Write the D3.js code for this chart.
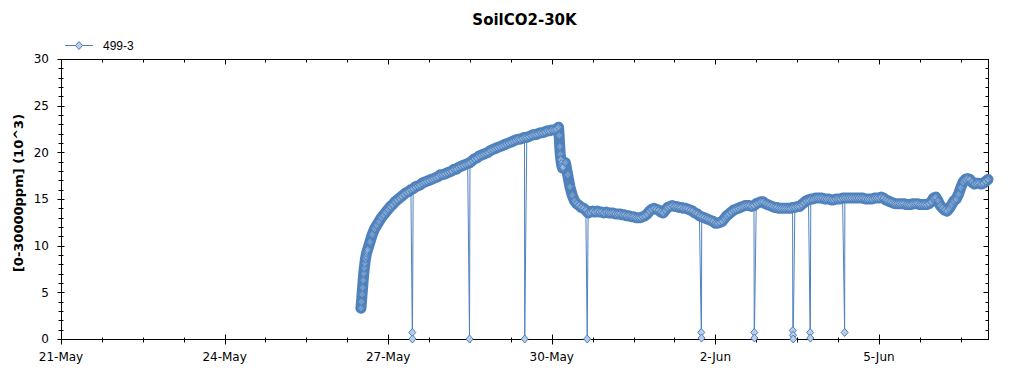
<!DOCTYPE html>
<html>
<head>
<meta charset="utf-8">
<script src="https://d3js.org/d3.v7.min.js"></script>
<style>
  body { margin: 0; background: #fff; }
  text { font-family: "DejaVu Sans", sans-serif; fill: #000; }
</style>
</head>
<body>
<script>
// SoilCO2-30K, sensor 499-3, values in 10^3 ppm
var chartTitle = "SoilCO2-30K";
var yLabel = "[0-30000ppm] (10^3)";
var seriesName = "499-3";

// first hours after start, 15 min apart
var riseStart = "2015-05-26T12:00";
var riseValues = [3.3, 4.0, 4.8, 5.5, 6.3, 7.0, 7.6, 8.1, 8.6, 8.9, 9.2, 9.4];

// hourly readings from 26-May 15:00
var hourlyStart = "2015-05-26T15:00";
var hourlyValues = [
  9.6, 10.4, 11.2, 11.8, 12.2, 12.6, 13.0, 13.3, 13.6,
  // 27-May
  13.9, 14.2, 14.4, 14.7, 14.9, 15.1, 15.3, 15.5, 15.7, 15.8, 16.0, 16.1,
  16.3, 16.4, 16.5, 16.7, 16.8, 16.9, 17.0, 17.1, 17.2, 17.3, 17.4, 17.6,
  // 28-May
  17.6, 17.7, 17.8, 17.9, 18.0, 18.2, 18.2, 18.4, 18.5, 18.6, 18.7, 18.8,
  18.9, 19.1, 19.3, 19.4, 19.6, 19.7, 19.8, 19.9, 20.0, 20.2, 20.3, 20.4,
  // 29-May
  20.5, 20.6, 20.7, 20.8, 20.9, 21.0, 21.1, 21.2, 21.3, 21.4, 21.4, 21.5,
  21.6, 21.6, 21.7, 21.8, 21.9, 21.9, 22.0, 22.1, 22.1, 22.2, 22.3, 22.3,
  // 30-May
  22.4, 22.4, 22.5, 22.7, 19.2, 18.4, 18.9, 17.6, 16.3, 15.4, 14.8, 14.5,
  14.3, 14.1, 14.0, 13.8, 13.5, 13.6, 13.7, 13.6, 13.7, 13.6, 13.6, 13.5,
  // 31-May
  13.6, 13.5, 13.5, 13.5, 13.4, 13.4, 13.4, 13.3, 13.3, 13.2, 13.2, 13.1,
  13.1, 13.0, 13.0, 13.0, 13.1, 13.2, 13.4, 13.7, 13.9, 14.0, 13.9, 13.8,
  // 1-Jun
  13.6, 13.5, 13.8, 14.1, 14.2, 14.3, 14.2, 14.2, 14.1, 14.1, 14.0, 14.0,
  13.9, 13.8, 13.7, 13.5, 13.4, 13.2, 13.1, 13.0, 12.9, 12.8, 12.7, 12.6,
  // 2-Jun
  12.4, 12.4, 12.5, 12.6, 12.9, 13.2, 13.4, 13.6, 13.8, 13.9, 14.0, 14.1,
  14.2, 14.3, 14.3, 14.3, 14.2, 14.3, 14.5, 14.6, 14.7, 14.7, 14.5, 14.4,
  // 3-Jun
  14.3, 14.2, 14.1, 14.1, 14.0, 14.0, 14.0, 14.0, 14.0, 14.0, 14.1, 14.1,
  14.2, 14.2, 14.4, 14.6, 14.8, 14.9, 15.0, 15.0, 15.1, 15.1, 15.1, 15.1,
  // 4-Jun
  15.0, 15.0, 15.0, 14.9, 14.9, 15.0, 15.0, 15.0, 15.1, 15.1, 15.1, 15.1,
  15.1, 15.1, 15.1, 15.1, 15.1, 15.1, 15.0, 15.0, 15.0, 15.0, 15.1, 15.1,
  // 5-Jun
  15.1, 15.2, 15.1, 14.9, 14.8, 14.7, 14.6, 14.5, 14.5, 14.5, 14.5, 14.5,
  14.4, 14.4, 14.4, 14.5, 14.5, 14.5, 14.4, 14.4, 14.4, 14.4, 14.5, 14.7,
  // 6-Jun
  15.1, 15.2, 14.8, 14.3, 14.0, 13.8, 13.7, 14.0, 14.4, 14.8, 15.0, 15.5,
  16.2, 16.8, 17.1, 17.2, 17.1, 16.8, 16.6, 16.7, 16.7, 16.6, 16.7, 16.9,
  17.1
];

// sharp fall on 30-May, 15 min apart
var fallStart = "2015-05-30T03:15";
var fallValues = [21.8, 20.6, 19.8, 19.2, 18.8, 18.5, 18.3];

// sensor dropouts (readings near zero), 5 min apart
var dropTimes = ["2015-05-27T10:36", "2015-05-28T11:48", "2015-05-29T12:06",
  "2015-05-30T15:36", "2015-06-01T17:48", "2015-06-02T17:06",
  "2015-06-03T10:06", "2015-06-03T17:42", "2015-06-04T08:54"];
var dropValues = [[0.7, 0], [0], [0], [0], [0.7, 0.1], [0.7, 0.1],
  [0.9, 0.4, 0], [0.7, 0.1], [0.7]];

var xTickDates = ["2015-05-21", "2015-05-24", "2015-05-27", "2015-05-30", "2015-06-02", "2015-06-05"];
var xTickLabels = ["21-May", "24-May", "27-May", "30-May", "2-Jun", "5-Jun"];
var xDomain = ["2015-05-21", "2015-06-07"];
var yTicks = [0, 5, 10, 15, 20, 25, 30];

var width = 1024, height = 375;
var margin = { left: 61, right: 36, top: 59, bottom: 36 };

var parseT = d3.timeParse("%Y-%m-%dT%H:%M");
var parseD = d3.timeParse("%Y-%m-%d");

// build point list
var points = [];
riseValues.forEach(function (v, i) {
  points.push({ t: d3.timeMinute.offset(parseT(riseStart), i * 15), v: v });
});
hourlyValues.forEach(function (v, i) {
  points.push({ t: d3.timeHour.offset(parseT(hourlyStart), i), v: v });
});
fallValues.forEach(function (v, i) {
  points.push({ t: d3.timeMinute.offset(parseT(fallStart), i * 15), v: v });
});
dropTimes.forEach(function (s, k) {
  dropValues[k].forEach(function (v, i) {
    points.push({ t: d3.timeMinute.offset(parseT(s), i * 5), v: v, drop: true });
  });
});
points.sort(function (a, b) { return a.t - b.t; });

var svg = d3.select("body").append("svg")
  .attr("width", width)
  .attr("height", height);

var x = d3.scaleTime()
  .domain(xDomain.map(parseD))
  .range([margin.left, width - margin.right]);

var y = d3.scaleLinear()
  .domain([0, 30])
  .range([height - margin.bottom, margin.top]);

var x0 = x.range()[0], x1 = x.range()[1];
var y0 = y.range()[0], y1 = y.range()[1];

// title
svg.append("text")
  .attr("x", (x0 + x1) / 2)
  .attr("y", 25)
  .attr("text-anchor", "middle")
  .style("font-weight", "bold")
  .style("font-size", "15px")
  .text(chartTitle);

// y label
svg.append("text")
  .attr("transform", "translate(23," + 193 + ") rotate(-90)")
  .attr("text-anchor", "middle")
  .style("font-weight", "bold")
  .style("font-size", "13px")
  .text(yLabel);

// plot frame
var g = svg.append("g").attr("transform", "translate(0.5,0.5)");

// minor ticks
var minorX = d3.range(0, 17 * 24 + 1, 18).map(function (h) {
  return d3.timeHour.offset(parseD(xDomain[0]), h);
});
var majorX = xTickDates.map(parseD);
var minorY = d3.range(0, 31, 1);

g.selectAll(".mxb").data(minorX).enter().append("line")
  .attr("x1", function (d) { return Math.round(x(d)); })
  .attr("x2", function (d) { return Math.round(x(d)); })
  .attr("y1", Math.round(y0) - 2).attr("y2", Math.round(y0) + 3)
  .attr("stroke", "#000");
g.selectAll(".mxt").data(minorX).enter().append("line")
  .attr("x1", function (d) { return Math.round(x(d)); })
  .attr("x2", function (d) { return Math.round(x(d)); })
  .attr("y1", Math.round(y1)).attr("y2", Math.round(y1) + 3)
  .attr("stroke", "#000");
g.selectAll(".Mxb").data(majorX).enter().append("line")
  .attr("x1", function (d) { return Math.round(x(d)); })
  .attr("x2", function (d) { return Math.round(x(d)); })
  .attr("y1", Math.round(y0) - 5).attr("y2", Math.round(y0) + 5)
  .attr("stroke", "#000");
g.selectAll(".Mxt").data(majorX).enter().append("line")
  .attr("x1", function (d) { return Math.round(x(d)); })
  .attr("x2", function (d) { return Math.round(x(d)); })
  .attr("y1", Math.round(y1)).attr("y2", Math.round(y1) + 5)
  .attr("stroke", "#000");

g.selectAll(".myl").data(minorY).enter().append("line")
  .attr("x1", Math.round(x0) - 3).attr("x2", Math.round(x0) + 2)
  .attr("y1", function (d) { return Math.round(y(d)); })
  .attr("y2", function (d) { return Math.round(y(d)); })
  .attr("stroke", "#000");
g.selectAll(".myr").data(minorY).enter().append("line")
  .attr("x1", Math.round(x1) - 3).attr("x2", Math.round(x1))
  .attr("y1", function (d) { return Math.round(y(d)); })
  .attr("y2", function (d) { return Math.round(y(d)); })
  .attr("stroke", "#000");
g.selectAll(".Myl").data(yTicks).enter().append("line")
  .attr("x1", Math.round(x0) - 4).attr("x2", Math.round(x0) + 3)
  .attr("y1", function (d) { return Math.round(y(d)); })
  .attr("y2", function (d) { return Math.round(y(d)); })
  .attr("stroke", "#000");
g.selectAll(".Myr").data(yTicks).enter().append("line")
  .attr("x1", Math.round(x1) - 5).attr("x2", Math.round(x1))
  .attr("y1", function (d) { return Math.round(y(d)); })
  .attr("y2", function (d) { return Math.round(y(d)); })
  .attr("stroke", "#000");

g.append("rect")
  .attr("x", Math.round(x0)).attr("y", Math.round(y1))
  .attr("width", Math.round(x1) - Math.round(x0))
  .attr("height", Math.round(y0) - Math.round(y1))
  .attr("fill", "none").attr("stroke", "#000");

// tick labels
svg.selectAll(".xl").data(majorX).enter().append("text")
  .attr("x", function (d) { return x(d); })
  .attr("y", y0 + 22)
  .attr("text-anchor", "middle")
  .style("font-size", "12px")
  .text(function (d, i) { return xTickLabels[i]; });

svg.selectAll(".yl").data(yTicks).enter().append("text")
  .attr("x", x0 - 12)
  .attr("y", function (d) { return y(d); })
  .attr("dy", "0.35em")
  .attr("text-anchor", "end")
  .style("font-size", "12px")
  .text(function (d) { return d; });

// series
var blue = "#4f81bd", pale = "#b9cde5";
var diamond = "M0,-4L3.5,0L0,4L-3.5,0Z";

var line = d3.line()
  .x(function (d) { return x(d.t); })
  .y(function (d) { return y(d.v); });

var plot = svg.append("g");
plot.append("path")
  .datum(points)
  .attr("fill", "none")
  .attr("stroke", blue)
  .attr("stroke-width", 1)
  .attr("d", line);

// dense marker band (markers overlap into a solid strip)
plot.append("path")
  .datum(points.filter(function (d) { return !d.drop; }))
  .attr("fill", "none")
  .attr("stroke", blue)
  .attr("stroke-width", 11)
  .attr("stroke-linejoin", "round")
  .attr("stroke-linecap", "round")
  .attr("d", line);

plot.selectAll(".pt").data(points).enter().append("path")
  .attr("transform", function (d) { return "translate(" + x(d.t) + "," + y(d.v) + ")"; })
  .attr("d", diamond)
  .attr("fill", pale)
  .attr("fill-opacity", function (d) { return d.drop ? 1 : 0.35; })
  .attr("stroke", blue)
  .attr("stroke-width", 1);

// legend
var leg = svg.append("g").attr("transform", "translate(65,45)");
leg.append("line").attr("x1", 0).attr("x2", 28).attr("y1", 0.5).attr("y2", 0.5)
  .attr("stroke", blue);
leg.append("path").attr("transform", "translate(14,0.5)").attr("d", diamond)
  .attr("fill", pale).attr("stroke", blue);
leg.append("text").attr("x", 38).attr("y", 4.5)
  .style("font-family", "Liberation Sans, Arial, sans-serif")
  .style("font-size", "12px")
  .text(seriesName);
</script>
</body>
</html>
